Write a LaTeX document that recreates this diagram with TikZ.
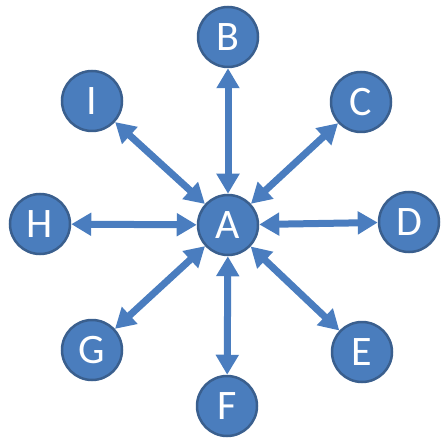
\documentclass[tikz,border=0pt]{standalone}
\usepackage{fontspec}
\setmainfont{Carlito}
\usetikzlibrary{arrows.meta}
\definecolor{hubfill}{HTML}{4A7DBD}
\definecolor{hubline}{HTML}{3A5F8E}
\definecolor{linkblue}{HTML}{4A7DBF}
\begin{document}
\begin{tikzpicture}[x=1pt,y=-1pt,
  hub/.style={circle,fill=hubfill,draw=hubline,line width=2.5pt,
    minimum size=60pt,inner sep=0pt,text=white,
    font=\fontsize{42}{42}\selectfont},
  link/.style={linkblue,line width=7pt,
    {Triangle[length=20pt,width=22pt]}-{Triangle[length=20pt,width=22pt]},
    shorten <=0pt,shorten >=0pt}]
  \useasboundingbox (0,0) rectangle (442,443);
  % central node and the eight around it
  \node[hub] (A) at (228,225) {A};
  \node[hub] (B) at (228,37) {B};
  \node[hub] (C) at (361,102) {C};
  \node[hub] (D) at (409,222) {D};
  \node[hub] (E) at (362,352) {E};
  \node[hub] (F) at (227,406) {F};
  \node[hub] (G) at (92,350) {G};
  \node[hub] (H) at (40,224) {H};
  \node[hub] (I) at (92,101) {I};
  % two-way links from the centre
  \foreach \n in {B,C,D,E,F,G,H,I}
    \draw[link] (A) -- (\n);
\end{tikzpicture}
\end{document}
